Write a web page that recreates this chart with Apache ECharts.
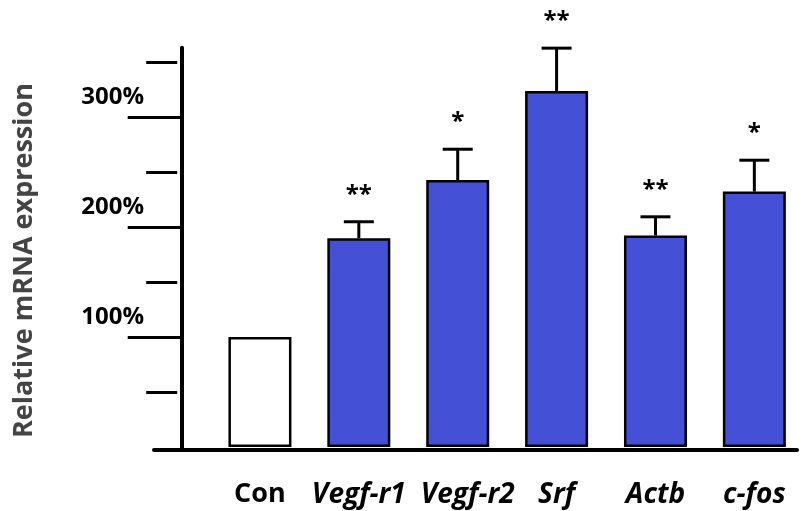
<!DOCTYPE html>
<html>
<head>
<meta charset="utf-8">
<script src="https://cdn.jsdelivr.net/npm/echarts@6/dist/echarts.min.js"></script>
<style>
  html, body { margin: 0; padding: 0; background: #ffffff; }
  #chart { width: 805px; height: 511px; }
</style>
</head>
<body>
<div id="chart"></div>
<script>
// Relative mRNA expression (% of control), mean and upper error
const categories = ['Con', 'Vegf-r1', 'Vegf-r2', 'Srf', 'Actb', 'c-fos'];
const expression = [100, 190, 243, 324, 192.5, 232.5];
const errorUpper = [0, 15, 28, 39, 17, 28.5];
const significance = ['', '**', '*', '**', '**', '*'];
const majorTicks = [100, 200, 300];
const minorTicks = [50, 150, 250, 350];
const yTitle = 'Relative mRNA expression';

const Y_MIN = -2.73;
const Y_MAX = 363.4;
const GRID_TOP = 47.7;
const GRID_BOTTOM = 61;
const FONT = '"Open Sans", "DejaVu Sans", sans-serif';
const BLUE = '#4450d6';

const chart = echarts.init(document.getElementById('chart'), null, { renderer: 'canvas' });

const barData = expression.map((v, i) => ({
  value: v,
  itemStyle: { color: i === 0 ? '#ffffff' : BLUE }
}));

const errorData = categories.map((c, i) => [i, expression[i], errorUpper[i]]);

function renderError(params, api) {
  const i = params.dataIndex;
  const mean = api.value(1);
  const err = api.value(2);
  const children = [];
  const top = api.coord([i, mean]);
  const cap = api.coord([i, mean + err]);
  if (err > 0) {
    children.push({
      type: 'line',
      shape: { x1: top[0], y1: top[1], x2: cap[0], y2: cap[1] },
      style: { stroke: '#000', lineWidth: 3 }
    });
    children.push({
      type: 'line',
      shape: { x1: cap[0] - 15, y1: cap[1], x2: cap[0] + 15, y2: cap[1] },
      style: { stroke: '#000', lineWidth: 3 }
    });
  }
  if (significance[i]) {
    children.push({
      type: 'text',
      x: cap[0],
      y: cap[1] - 27,
      style: {
        text: significance[i],
        fill: '#000',
        font: 'bold 24px ' + FONT,
        align: 'center',
        verticalAlign: 'middle',
        textAlign: 'center',
        textVerticalAlign: 'middle'
      }
    });
  }
  return { type: 'group', children: children };
}

const labelBase = { fontFamily: FONT, fontWeight: 700, color: '#000' };

const option = {
  backgroundColor: '#ffffff',
  animation: false,
  grid: [
    // bars
    { left: 210.5, right: 1.2, top: GRID_TOP, bottom: GRID_BOTTOM },
    // horizontal baseline
    { left: 154, right: 8, top: GRID_TOP, bottom: GRID_BOTTOM },
    // vertical value axis
    { left: 181.7, right: 8, top: GRID_TOP, bottom: GRID_BOTTOM }
  ],
  xAxis: [
    {
      gridIndex: 0,
      type: 'category',
      data: categories,
      axisLine: { show: false },
      axisTick: { show: false },
      splitLine: { show: false },
      axisLabel: {
        interval: 0,
        margin: 31,
        formatter: function (v) {
          if (v === 'Con') return '{n|' + v + '}';
          if (v === 'Vegf-r2') return '{s|' + v + '}';
          return '{i|' + v + '}';
        },
        rich: {
          n: Object.assign({}, labelBase, { fontStyle: 'normal', fontSize: 27 }),
          i: Object.assign({}, labelBase, { fontStyle: 'italic', fontSize: 28 }),
          s: Object.assign({}, labelBase, { fontStyle: 'italic', fontSize: 28, padding: [0, 0, 0, 20] })
        }
      }
    },
    {
      gridIndex: 1,
      type: 'value',
      min: 0,
      max: 1,
      axisLine: { show: true, onZero: false, lineStyle: { color: '#000', width: 4 } },
      axisTick: { show: false },
      axisLabel: { show: false },
      splitLine: { show: false }
    },
    {
      gridIndex: 2,
      type: 'value',
      min: 0,
      max: 1,
      show: false
    }
  ],
  yAxis: [
    {
      gridIndex: 0,
      type: 'value',
      min: Y_MIN,
      max: Y_MAX,
      show: false
    },
    {
      gridIndex: 1,
      type: 'value',
      min: 0,
      max: 1,
      show: false
    },
    {
      gridIndex: 2,
      type: 'value',
      position: 'left',
      min: Y_MIN,
      max: Y_MAX,
      axisLine: { show: true, onZero: false, lineStyle: { color: '#000', width: 4 } },
      axisTick: {
        show: true,
        customValues: majorTicks,
        length: 54,
        lineStyle: { color: '#000', width: 3 }
      },
      axisLabel: {
        show: true,
        customValues: majorTicks,
        // value on the first line, an empty spacer line below lifts it above the tick
        formatter: function (v) { return '{t|' + v + '%}\n{gap|}'; },
        margin: 37.7,
        rich: {
          t: { fontFamily: FONT, fontSize: 24, fontWeight: 700, color: '#000', lineHeight: 24 },
          gap: { lineHeight: 40, fontSize: 10 }
        }
      },
      splitLine: { show: false }
    },
    {
      gridIndex: 2,
      type: 'value',
      position: 'left',
      min: Y_MIN,
      max: Y_MAX,
      offset: 4.5,
      axisLine: { show: false, onZero: false },
      axisTick: {
        show: true,
        customValues: minorTicks,
        length: 31,
        lineStyle: { color: '#000', width: 3 }
      },
      axisLabel: { show: false },
      splitLine: { show: false }
    }
  ],
  graphic: [
    {
      type: 'text',
      x: 24,
      y: 260.5,
      rotation: Math.PI / 2,
      style: {
        text: yTitle,
        fill: '#444444',
        font: 'bold 27px ' + FONT,
        align: 'center',
        verticalAlign: 'middle',
        textAlign: 'center',
        textVerticalAlign: 'middle'
      }
    }
  ],
  series: [
    {
      type: 'bar',
      xAxisIndex: 0,
      yAxisIndex: 0,
      data: barData,
      barWidth: 63,
      itemStyle: { borderColor: '#000', borderWidth: 2.5 },
      z: 2
    },
    {
      type: 'custom',
      xAxisIndex: 0,
      yAxisIndex: 0,
      data: errorData,
      renderItem: renderError,
      z: 3
    }
  ]
};

chart.setOption(option);
</script>
</body>
</html>
